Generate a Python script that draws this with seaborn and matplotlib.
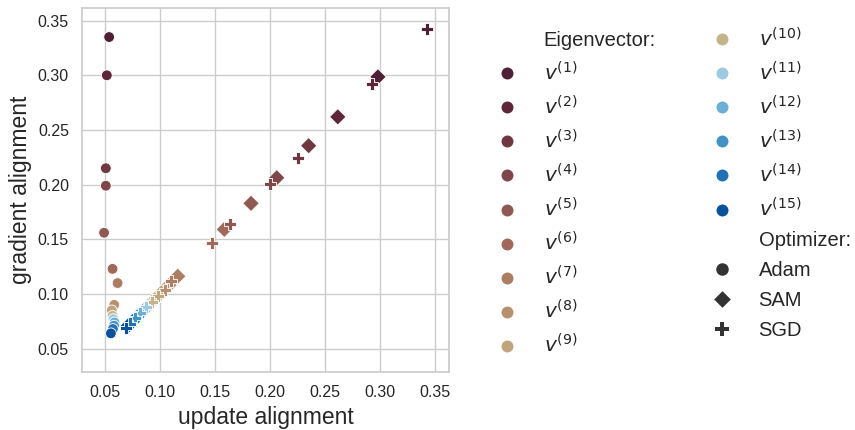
import matplotlib
matplotlib.use("Agg")
import matplotlib.pyplot as plt
from matplotlib.lines import Line2D
from matplotlib.collections import PathCollection
import numpy as np
import pandas as pd
import seaborn as sns

# Eigenvector labels v^(1) ... v^(15)
eigen_labels = [rf"$v^{{({i})}}$" for i in range(1, 16)]

# Adam: alignment of each eigenvector with the update / the gradient
adam_update = [0.0536, 0.0515, 0.0506, 0.0506, 0.0490, 0.0567, 0.0613, 0.0582,
               0.0560, 0.0567, 0.0575, 0.0585, 0.0580, 0.0570, 0.0552]
adam_grad = [0.335, 0.300, 0.215, 0.199, 0.156, 0.123, 0.110, 0.090,
             0.085, 0.080, 0.077, 0.074, 0.071, 0.068, 0.064]

# SAM
sam_update = [0.298, 0.2615, 0.235, 0.206, 0.1826, 0.1583, 0.116, 0.108,
              0.101, 0.095, 0.089, 0.084, 0.079, 0.075, 0.071]
sam_grad = [0.2986, 0.262, 0.2356, 0.2063, 0.1829, 0.1591, 0.1162, 0.108,
            0.101, 0.095, 0.089, 0.084, 0.079, 0.075, 0.071]

# SGD
sgd_update = [0.3424, 0.2924, 0.2251, 0.2001, 0.1637, 0.1471, 0.110, 0.104,
              0.098, 0.093, 0.087, 0.082, 0.077, 0.073, 0.069]
sgd_grad = [0.3422, 0.292, 0.224, 0.2003, 0.1637, 0.1463, 0.1116, 0.104,
            0.098, 0.093, 0.088, 0.083, 0.078, 0.073, 0.069]

optimizers = ["Adam", "SAM", "SGD"]

frames = []
for opt, ux, gy in [("Adam", adam_update, adam_grad),
                    ("SAM", sam_update, sam_grad),
                    ("SGD", sgd_update, sgd_grad)]:
    frames.append(pd.DataFrame({
        "update alignment": ux,
        "gradient alignment": gy,
        "Eigenvector:": eigen_labels,
        "Optimizer:": opt,
    }))
df = pd.concat(frames, ignore_index=True)

# wine-to-tan ramp followed by a blue ramp
palette = ["#4f1f35", "#5e2739", "#703641", "#80474a", "#905852",
           "#a0695a", "#ac7d63", "#b7916f", "#c0a47c", "#c5b38a",
           "#9ecae1", "#6baed6", "#4292c6", "#2171b5", "#08519c"]

sns.set_theme(style="whitegrid")
plt.rcParams["font.family"] = ["Liberation Sans", "DejaVu Sans"]

fig = plt.figure(figsize=(8.55, 4.3), dpi=100)
ax = fig.add_axes([0.096, 0.135, 0.429, 0.846])

sns.scatterplot(
    data=df, x="update alignment", y="gradient alignment",
    hue="Eigenvector:", hue_order=eigen_labels, palette=palette,
    style="Optimizer:", style_order=optimizers,
    markers={"Adam": "o", "SAM": (4, 0, 0), "SGD": "P"},
    size="Optimizer:", size_order=optimizers,
    sizes={"Adam": 60, "SAM": 140, "SGD": 75},
    legend="full", ax=ax,
)

ax.set_xlim(0.029, 0.3625)
ax.set_ylim(0.0287, 0.3614)
ticks = [0.05, 0.10, 0.15, 0.20, 0.25, 0.30, 0.35]
ax.set_xticks(ticks)
ax.set_yticks(ticks)
ax.set_xticklabels([f"{t:.2f}" for t in ticks])
ax.set_yticklabels([f"{t:.2f}" for t in ticks])
ax.tick_params(labelsize=11.5)
ax.set_xlabel("update alignment", fontsize=16.5)
ax.set_ylabel("gradient alignment", fontsize=16.5)

sns.move_legend(ax, "upper left", bbox_to_anchor=(1.055, 0.998), ncol=2,
                frameon=False, fontsize=14.5, title=None, markerscale=1.0,
                columnspacing=2.3, labelspacing=0.54)

# legend swatch sizes (points)
swatch = {lab: 8.6 for lab in eigen_labels}
swatch.update({"Adam": 9.0, "SAM": 12.0, "SGD": 10.0})
leg = ax.get_legend()
for handle, text in zip(leg.legend_handles, leg.get_texts()):
    ms = swatch.get(text.get_text())
    if ms is None:
        continue
    if isinstance(handle, Line2D):
        handle.set_markersize(ms)
        handle.set_markeredgewidth(0)
    elif isinstance(handle, PathCollection):
        handle.set_sizes([ms ** 2])
        handle.set_linewidth(0)

fig.savefig("out.png", dpi=100)
